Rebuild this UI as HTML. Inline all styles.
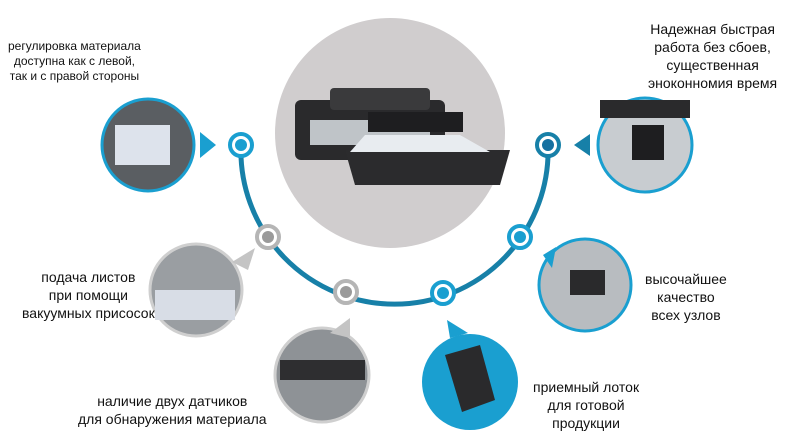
<!DOCTYPE html>
<html><head><meta charset="utf-8"><style>
body{margin:0;width:800px;height:439px;background:#fff;overflow:hidden;position:relative;font-family:"Liberation Sans","Noto Sans CJK SC",sans-serif;color:#111}
.t{position:absolute;font-size:13px;line-height:17px;text-align:center;white-space:nowrap}
</style></head><body>
<svg width="800" height="439" style="position:absolute;left:0;top:0">
<circle cx="390" cy="133" r="115" fill="#d0cdce"/>
<g>
<rect x="295" y="100" width="150" height="60" rx="6" fill="#2a2a2c"/>
<rect x="330" y="88" width="100" height="22" rx="4" fill="#3a3a3c"/>
<rect x="310" y="120" width="120" height="25" fill="#bfc4c8"/>
<polygon points="345,150 510,150 500,185 355,185" fill="#2b2b2d"/>
<rect x="368" y="112" width="95" height="20" fill="#1e1e20"/>
<polygon points="365,135 460,135 490,152 350,152" fill="#e8ecf0"/>
</g>
<path d="M241,145 A153.6 153.6 0 1 0 548,145" fill="none" stroke="#1780a8" stroke-width="5"/>
<circle cx="148" cy="145" r="46" fill="#5a5e62" stroke="#1a9fd0" stroke-width="3"/>
<rect x="115" y="125" width="55" height="40" fill="#dde3ec"/>
<polygon points="200,132 216,145 200,158" fill="#1a9fd0"/>
<circle cx="196" cy="290" r="46" fill="#9a9ea2" stroke="#cfcfcf" stroke-width="3"/>
<rect x="155" y="290" width="80" height="30" fill="#d8dde6"/>
<polygon points="232,262 255,248 248,270" fill="#c4c4c4"/>
<circle cx="322" cy="375" r="47" fill="#8e9296" stroke="#cfcfcf" stroke-width="3"/>
<rect x="280" y="360" width="85" height="20" fill="#2e2e30"/>
<polygon points="330,333 350,318 350,338" fill="#c4c4c4"/>
<circle cx="470" cy="382" r="48" fill="#1a9fd0"/>
<polygon points="445,355 480,345 495,400 462,412" fill="#2a2a2c"/>
<polygon points="447,320 468,333 450,338" fill="#1a9fd0"/>
<circle cx="585" cy="285" r="46" fill="#b8bcc0" stroke="#1a9fd0" stroke-width="3"/>
<rect x="570" y="270" width="35" height="25" fill="#2a2a2c"/>
<polygon points="543,255 556,247 552,268" fill="#1a9fd0"/>
<circle cx="645" cy="145" r="47" fill="#c8ccd0" stroke="#1a9fd0" stroke-width="3"/>
<rect x="600" y="100" width="90" height="18" fill="#2a2a2c"/>
<rect x="632" y="125" width="32" height="35" fill="#1e1e20"/>
<polygon points="574,145 590,134 590,156" fill="#1780a8"/>
<g stroke-width="4" fill="#fff">
<circle cx="241" cy="145" r="11" stroke="#1a9fd0"/><circle cx="241" cy="145" r="6" fill="#1a9fd0" stroke="none"/>
<circle cx="268" cy="237" r="11" stroke="#b5b5b5"/><circle cx="268" cy="237" r="6" fill="#9a9a9a" stroke="none"/>
<circle cx="346" cy="292" r="11" stroke="#b5b5b5"/><circle cx="346" cy="292" r="6" fill="#9a9a9a" stroke="none"/>
<circle cx="443" cy="293" r="11" stroke="#1a9fd0"/><circle cx="443" cy="293" r="6" fill="#1a9fd0" stroke="none"/>
<circle cx="520" cy="237" r="11" stroke="#1a9fd0"/><circle cx="520" cy="237" r="6" fill="#1a9fd0" stroke="none"/>
<circle cx="548" cy="145" r="11" stroke="#1780a8"/><circle cx="548" cy="145" r="6" fill="#1670a0" stroke="none"/>
</g>
</svg>
<div class="t" style="left:8px;top:39px;font-size:12px;line-height:15px">регулировка материала<br>доступна как с левой,<br>так и с правой стороны</div>
<div class="t" style="left:648px;top:20px;font-size:14px;line-height:18px">Надежная быстрая<br>работа без сбоев,<br>существенная<br>эноконномия время</div>
<div class="t" style="left:22px;top:268px;font-size:14px;line-height:18px">подача листов<br>при помощи<br>вакуумных присосок</div>
<div class="t" style="left:645px;top:270px;font-size:14px;line-height:18px">высочайшее<br>качество<br>всех узлов</div>
<div class="t" style="left:78px;top:392px;font-size:14px;line-height:18px">наличие двух датчиков<br>для обнаружения материала</div>
<div class="t" style="left:533px;top:378px;font-size:14px;line-height:18px">приемный лоток<br>для готовой<br>продукции</div>
</body></html>
